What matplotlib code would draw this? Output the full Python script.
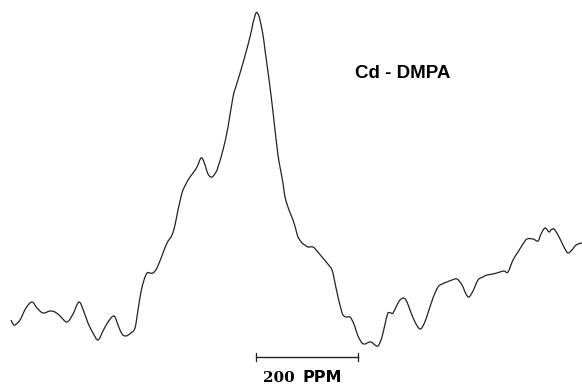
import matplotlib.pyplot as plt
import numpy as np
from matplotlib.path import Path
from matplotlib.patches import PathPatch

# trace of the spectrum
# shift: horizontal position (px, left -> right), ypix: vertical position of the trace (px from top)
shift = [11, 13, 15, 20, 26, 32, 37, 43, 50, 55, 60, 67, 73, 79, 84, 88, 93, 98,
         103, 108, 114, 118, 122, 126, 131, 135, 138, 141, 144, 147, 150, 153, 157,
         163, 167, 172, 175, 178, 181, 183, 187, 190, 193, 197, 201, 204, 208, 212,
         216, 218, 223, 228, 233, 237, 243, 250, 253, 256, 258, 260, 263, 265,
         268, 270, 273, 275, 278, 280, 283, 285, 289, 293, 296, 298, 302, 305, 308,
         313, 317, 322, 327, 332, 335, 338, 341, 343, 346, 350, 353, 355, 358, 362,
         365, 367, 371, 375, 378, 381, 383, 386, 388, 391, 393, 397, 400, 404, 407,
         410, 415, 420, 424, 428, 433, 438, 442, 447, 452, 457, 462, 466, 469, 473,
         478, 483, 487, 493, 500, 504, 508, 513, 518, 523, 527, 533, 538, 541, 545,
         549, 551, 554, 558, 562, 565, 568, 572, 575, 578, 582]
ypix = [320, 324, 325, 320, 308, 302, 308, 313, 311, 312, 316, 322, 314, 302, 312,
        323, 333, 340, 331, 322, 316, 325, 334, 336, 333, 328, 310, 292, 280, 273,
        273, 273, 268, 253, 243, 235, 225, 210, 197, 190, 182, 177, 173, 167, 158,
        162, 174, 177, 172, 167, 150, 127, 97, 83, 63, 37, 23, 13, 14, 20, 35,
        50, 72, 87, 112, 130, 155, 167, 183, 197, 210, 220, 230, 237, 243, 245, 247,
        247, 251, 257, 263, 270, 283, 297, 309, 315, 317, 317, 322, 327, 336, 343,
        344, 343, 342, 345, 346, 340, 333, 320, 313, 313, 313, 305, 300, 298, 302,
        310, 322, 329, 324, 313, 298, 287, 284, 282, 280, 279, 285, 294, 297, 291,
        280, 277, 275, 274, 272, 271, 272, 260, 252, 244, 239, 239, 241, 234, 228,
        232, 230, 229, 235, 243, 249, 253, 250, 246, 244, 243]
intensity = [384 - v for v in ypix]

scale_start, scale_end = 256, 358   # 200 ppm bar
scale_y = 384 - 357


def smooth_path(x, y):
    # Catmull-Rom through the traced points, drawn as cubic Bezier segments
    P = np.column_stack([x, y]).astype(float)
    n = len(P)
    verts = [P[0]]
    codes = [Path.MOVETO]
    for i in range(n - 1):
        p0 = P[max(i - 1, 0)]
        p1 = P[i]
        p2 = P[i + 1]
        p3 = P[min(i + 2, n - 1)]
        verts += [p1 + (p2 - p0) / 6, p2 - (p3 - p1) / 6, p2]
        codes += [Path.CURVE4] * 3
    return Path(verts, codes)


fig = plt.figure(figsize=(5.82, 3.84), dpi=100)
ax = fig.add_axes([0, 0, 1, 1])
ax.add_patch(PathPatch(smooth_path(shift, intensity), fill=False,
                       edgecolor='#222222', lw=0.9))

# scale bar
ax.plot([scale_start, scale_end], [scale_y, scale_y], color='#222222', lw=1.0)
for xe in (scale_start, scale_end):
    ax.plot([xe, xe], [scale_y - 4, scale_y + 4], color='#222222', lw=0.9)
ax.text(263, 6.5, '200', fontsize=11, fontweight='bold', family='DejaVu Serif',
        ha='left', va='center')
ax.text(302, 6.5, 'PPM', fontsize=11.5, fontweight='bold', family='DejaVu Sans',
        ha='left', va='center')

ax.text(355, 384 - 74, 'Cd - DMPA', fontsize=13.5, fontweight='bold',
        family='Liberation Sans', ha='left', va='center')

ax.set_xlim(0, 582)
ax.set_ylim(0, 384)
ax.axis('off')
fig.savefig('out.png', dpi=100)
